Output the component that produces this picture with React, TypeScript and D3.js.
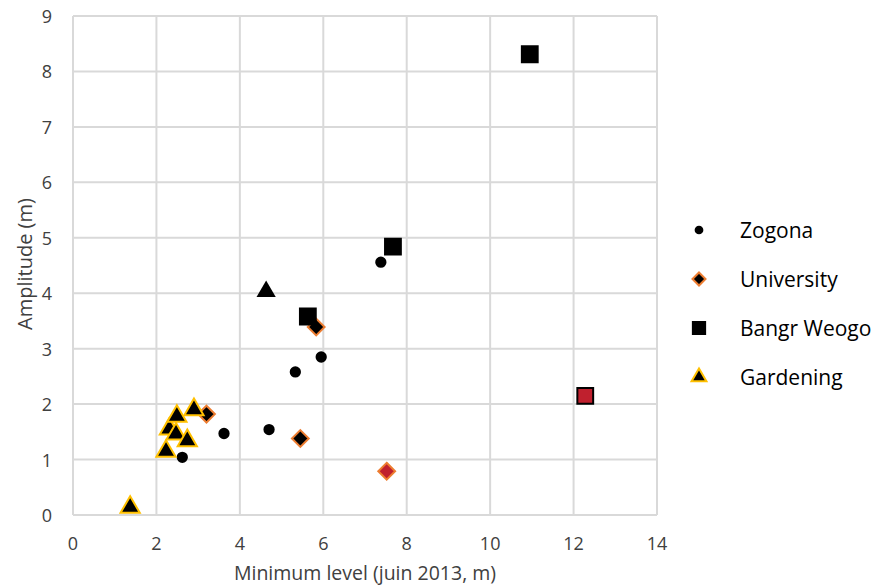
import React, { useEffect, useRef } from 'react';
import * as d3 from 'd3';

type Pt = { x: number; y: number; fill?: string; stroke?: string };

const zogona: Pt[] = [
  { x: 2.62, y: 1.04 },
  { x: 3.62, y: 1.47 },
  { x: 4.7, y: 1.54 },
  { x: 5.33, y: 2.58 },
  { x: 5.95, y: 2.85 },
  { x: 7.38, y: 4.56 },
];

const university: Pt[] = [
  { x: 3.2, y: 1.82 },
  { x: 5.45, y: 1.38 },
  { x: 5.83, y: 3.39 },
  { x: 7.52, y: 0.79, fill: '#C0202E' },
];

const bangrWeogo: Pt[] = [
  { x: 5.63, y: 3.58 },
  { x: 7.67, y: 4.84 },
  { x: 10.95, y: 8.31 },
  { x: 12.28, y: 2.15, fill: '#C0202E' },
];

const gardening: Pt[] = [
  { x: 1.37, y: 0.14 },
  { x: 2.23, y: 1.15 },
  { x: 2.31, y: 1.55 },
  { x: 2.47, y: 1.46 },
  { x: 2.49, y: 1.78 },
  { x: 2.74, y: 1.34 },
  { x: 2.9, y: 1.9 },
  { x: 4.63, y: 4.03, stroke: 'none' },
];

const xTicks = [0, 2, 4, 6, 8, 10, 12, 14];
const yTicks = [0, 1, 2, 3, 4, 5, 6, 7, 8, 9];

const seriesList = [
  { name: 'Zogona', data: zogona, symbol: d3.symbolCircle, size: 100, fill: '#000', stroke: 'none' },
  { name: 'University', data: university, symbol: d3.symbolDiamond2, size: 180, fill: '#000', stroke: '#ED7D31' },
  { name: 'Bangr Weogo', data: bangrWeogo, symbol: d3.symbolSquare, size: 250, fill: '#000', stroke: '#000' },
  { name: 'Gardening', data: gardening, symbol: d3.symbolTriangle, size: 160, fill: '#000', stroke: '#FFC000' },
];

const FONT = '"Open Sans", sans-serif';

export default function App() {
  const ref = useRef<SVGSVGElement>(null);
  const width = 891;
  const height = 587;

  useEffect(() => {
    if (!ref.current) return;
    const svg = d3.select(ref.current);
    svg.selectAll('*').remove();

    const left = 73, right = 657, top = 16, bottom = 515;
    const x = d3.scaleLinear().domain([0, 14]).range([left, right]);
    const y = d3.scaleLinear().domain([0, 9]).range([bottom, top]);

    svg.append('rect').attr('width', width).attr('height', height).attr('fill', '#fff');

    // grid
    const grid = svg.append('g');
    grid.selectAll('.gx').data(xTicks).enter().append('line')
      .attr('x1', d => x(d)).attr('x2', d => x(d))
      .attr('y1', top).attr('y2', bottom)
      .attr('stroke', '#d9d9d9').attr('stroke-width', 2);
    grid.selectAll('.gy').data(yTicks).enter().append('line')
      .attr('x1', left).attr('x2', right)
      .attr('y1', d => y(d)).attr('y2', d => y(d))
      .attr('stroke', '#d9d9d9').attr('stroke-width', 2);

    // tick labels
    svg.append('g').selectAll('text').data(xTicks).enter().append('text')
      .attr('x', d => x(d)).attr('y', 550)
      .attr('text-anchor', 'middle')
      .style('font-family', FONT).style('font-size', '18px').attr('fill', '#404040')
      .text(d => d);
    svg.append('g').selectAll('text').data(yTicks).enter().append('text')
      .attr('x', 52).attr('y', d => y(d) + 7)
      .attr('text-anchor', 'end')
      .style('font-family', FONT).style('font-size', '18px').attr('fill', '#404040')
      .text(d => d);

    // axis titles
    svg.append('text')
      .attr('x', 365).attr('y', 580)
      .attr('text-anchor', 'middle')
      .style('font-family', FONT).style('font-size', '19.5px').attr('fill', '#404040')
      .text('Minimum level (juin 2013, m)');
    svg.append('text')
      .attr('transform', 'translate(32,264) rotate(-90)')
      .attr('text-anchor', 'middle')
      .style('font-family', FONT).style('font-size', '20px').attr('fill', '#404040')
      .text('Amplitude (m)');

    // points
    seriesList.forEach(s => {
      const sym = d3.symbol().type(s.symbol).size(s.size);
      svg.append('g').selectAll('path').data(s.data).enter().append('path')
        .attr('d', sym as any)
        .attr('transform', d => `translate(${x(d.x)},${y(d.y)})`)
        .attr('fill', d => d.fill ?? s.fill)
        .attr('stroke', d => d.stroke ?? s.stroke)
        .attr('stroke-width', 2);
    });

    // legend
    const legend = svg.append('g').attr('transform', 'translate(699,230)');
    seriesList.forEach((s, i) => {
      const g = legend.append('g').attr('transform', `translate(0,${i * 49})`);
      g.append('path')
        .attr('d', d3.symbol().type(s.symbol).size(s.size * 0.6)() as string)
        .attr('fill', s.fill).attr('stroke', s.stroke).attr('stroke-width', 2);
      g.append('text')
        .attr('x', 41).attr('y', 8)
        .style('font-family', FONT).style('font-size', '21px').attr('fill', '#000')
        .text(s.name);
    });
  }, []);

  return (
    <svg
      ref={ref}
      width={width}
      height={height}
      style={{ position: 'fixed', left: 0, top: 0, display: 'block' }}
    />
  );
}
